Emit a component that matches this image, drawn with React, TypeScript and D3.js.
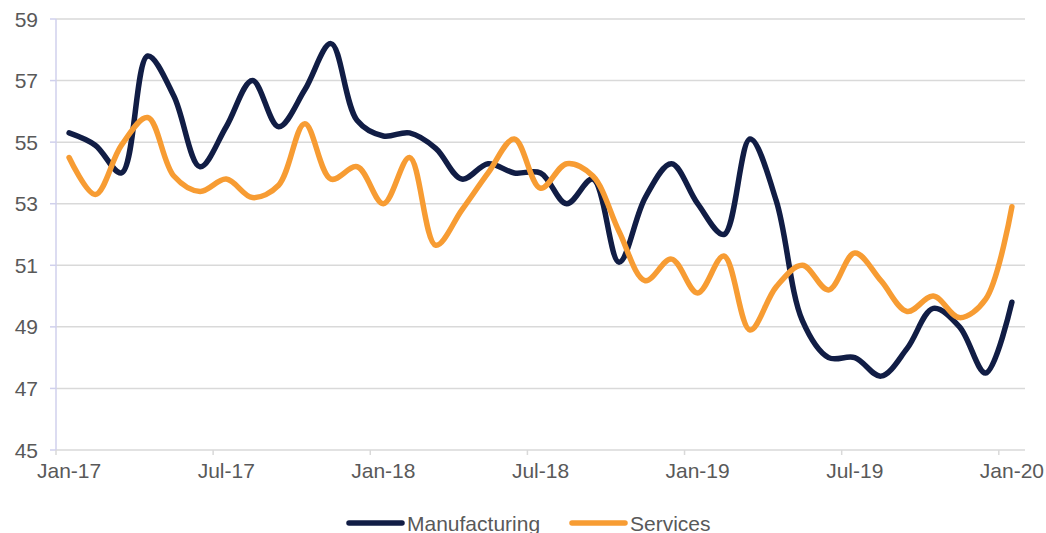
import React from "react";
import * as d3 from "d3";

const months: string[] = [
  "Jan-17","Feb-17","Mar-17","Apr-17","May-17","Jun-17","Jul-17","Aug-17","Sep-17","Oct-17","Nov-17","Dec-17",
  "Jan-18","Feb-18","Mar-18","Apr-18","May-18","Jun-18","Jul-18","Aug-18","Sep-18","Oct-18","Nov-18","Dec-18",
  "Jan-19","Feb-19","Mar-19","Apr-19","May-19","Jun-19","Jul-19","Aug-19","Sep-19","Oct-19","Nov-19","Dec-19",
  "Jan-20",
];

const manufacturing: number[] = [
  55.3, 54.9, 54.0, 57.8, 56.5, 54.2, 55.5, 57.0, 55.5, 56.7, 58.2, 55.7,
  55.2, 55.3, 54.8, 53.8, 54.3, 54.0, 54.0, 53.0, 53.8, 51.1, 53.2, 54.3,
  53.0, 52.0, 55.1, 53.1, 49.2, 48.0, 48.0, 47.4, 48.3, 49.6, 49.0, 47.5,
  49.8,
];

const services: number[] = [
  54.5, 53.3, 54.9, 55.8, 53.9, 53.4, 53.8, 53.2, 53.6, 55.6, 53.8, 54.2,
  53.0, 54.5, 51.65, 52.8, 54.0, 55.1, 53.5, 54.3, 53.9, 52.1, 50.5, 51.2,
  50.1, 51.3, 48.9, 50.3, 51.0, 50.2, 51.4, 50.5, 49.5, 50.0, 49.3, 49.9,
  52.9,
];

const yTicks: number[] = [45, 47, 49, 51, 53, 55, 57, 59];
const xTickLabels: string[] = ["Jan-17", "Jul-17", "Jan-18", "Jul-18", "Jan-19", "Jul-19", "Jan-20"];

const seriesNames: string[] = ["Manufacturing", "Services"];
const seriesColors: string[] = ["#111d45", "#f79c33"];

const W = 1046;
const H = 533;
const FONT = "'Liberation Sans', Arial, sans-serif";

export default function App() {
  const x = d3.scaleBand<string>().domain(months).range([56, 1025]).paddingInner(0).paddingOuter(0);
  const y = d3.scaleLinear().domain([45, 59]).range([450, 19]);
  const cx = (m: string) => (x(m) as number) + x.bandwidth() / 2;

  const line = d3
    .line<number>()
    .x((_, i) => cx(months[i]))
    .y((d) => y(d))
    .curve(d3.curveCatmullRom.alpha(0.5));

  const seriesData = [manufacturing, services];

  return (
    <svg
      width={W}
      height={H}
      style={{ position: "absolute", left: 0, top: 0, background: "#fff" }}
      fontFamily={FONT}
    >
      {/* gridlines */}
      {yTicks.map((t) => (
        <line key={"g" + t} x1={56} x2={1025} y1={y(t)} y2={y(t)} stroke="#d9d9d9" strokeWidth={1.5} />
      ))}
      {/* y axis */}
      <line x1={56} x2={56} y1={y(59)} y2={y(45)} stroke="#d0d0ec" strokeWidth={1.5} />
      {yTicks.map((t) => (
        <g key={"yt" + t}>
          <line x1={50} x2={56} y1={y(t)} y2={y(t)} stroke="#d0d0ec" strokeWidth={1.5} />
          <text x={38} y={y(t)} dy="0.36em" textAnchor="end" fontSize={21} fill="#595959">
            {t}
          </text>
        </g>
      ))}
      {/* x axis ticks */}
      {xTickLabels.map((lab) => (
        <g key={"xt" + lab}>
          <line x1={x(lab) as number} x2={x(lab) as number} y1={y(45)} y2={y(45) + 5} stroke="#d9d9d9" strokeWidth={1.5} />
          <text x={cx(lab)} y={478} textAnchor="middle" fontSize={21} fill="#595959">
            {lab}
          </text>
        </g>
      ))}
      {/* lines */}
      {seriesData.map((s, k) => (
        <path
          key={"s" + k}
          d={line(s) || ""}
          fill="none"
          stroke={seriesColors[k]}
          strokeWidth={5.5}
          strokeLinejoin="round"
          strokeLinecap="round"
        />
      ))}
      {/* legend */}
      <g>
        <line x1={349} x2={402} y1={523} y2={523} stroke={seriesColors[0]} strokeWidth={5.5} strokeLinecap="round" />
        <text x={407} y={530.5} fontSize={21} fill="#595959">{seriesNames[0]}</text>
        <line x1={572} x2={625} y1={523} y2={523} stroke={seriesColors[1]} strokeWidth={5.5} strokeLinecap="round" />
        <text x={630} y={530.5} fontSize={21} fill="#595959">{seriesNames[1]}</text>
      </g>
    </svg>
  );
}
